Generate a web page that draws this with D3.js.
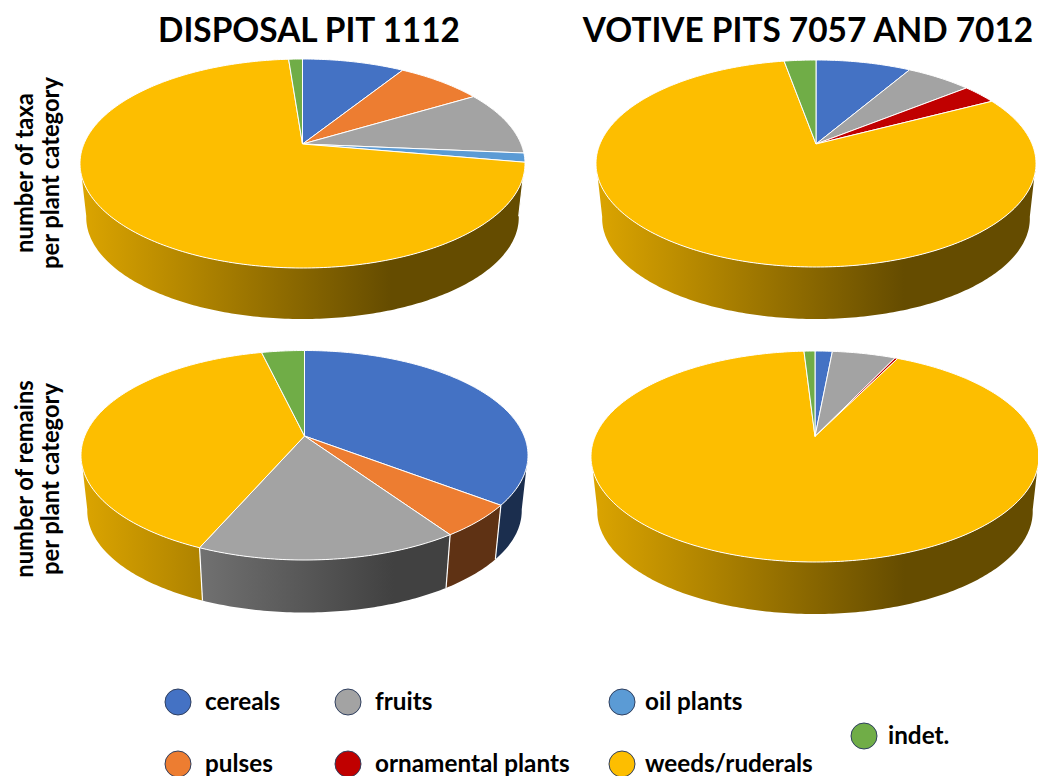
<!DOCTYPE html>
<html>
<head>
<meta charset="utf-8">
<script src="https://cdnjs.cloudflare.com/ajax/libs/d3/7.8.5/d3.min.js"></script>
<style>
  body { margin: 0; background: #fff; }
  text { font-family: Lato, "Open Sans", sans-serif; font-weight: 700; fill: #000; }
</style>
</head>
<body>
<script>
// order of every series: same as categories
var categories = ["cereals", "pulses", "fruits", "oil plants", "ornamental plants", "weeds/ruderals", "indet."];
var colors = ["#4472c4", "#ed7d31", "#a3a3a3", "#5b9bd5", "#c00000", "#fdbe00", "#70ad47"];

// shares in percent
var taxaDisposal    = [8.9, 7.5, 10.0, 1.4, 0, 71.0, 1.2];
var taxaVotive      = [8.4, 0, 5.8, 0, 3.1, 79.9, 2.8];
var remainsDisposal = [35.4, 5.1, 16.0, 0, 0, 39.8, 3.7];
var remainsVotive   = [1.5, 0, 5.5, 0, 0.25, 91.8, 0.95];

var titles = ["DISPOSAL PIT 1112", "VOTIVE PITS 7057 AND 7012"];
var rowLabels = [["number of taxa", "per plant category"], ["number of remains", "per plant category"]];

var width = 1038, height = 776;
var svg = d3.select("body").append("svg").attr("width", width).attr("height", height);
var defs = svg.append("defs");

var pie = d3.pie().sort(null);
var line = d3.line();

// perspective disc: apex is the pie centre, top/bottom are the ellipse extremes
function makeProjection(p, scale, shift) {
  var up = p.apexY - p.top, down = p.bottom - p.apexY;
  var k = (up - down) / (up + down);
  var b = up * (1 - k);
  var a = p.rx * Math.sqrt(1 - k * k);
  return function(phi) {
    var X = Math.sin(phi), Y = -Math.cos(phi), w = 1 + k * Y;
    return [p.cx + scale * a * X / w, p.apexY + shift + scale * b * Y / w];
  };
}

function arcPoints(project, a0, a1) {
  var n = Math.max(2, Math.ceil((a1 - a0) / 0.015)), pts = [];
  for (var i = 0; i <= n; i++) pts.push(project(a0 + (a1 - a0) * i / n));
  return pts;
}

var rad = Math.PI / 180;
var wallFrom = 100 * rad, wallTo = 260 * rad;
var bottomScale = 0.972;
var shadeStops = [[0, 0.87], [0.7, 0.4], [1, 0.4]];

function shade(c, f) {
  var r = d3.rgb(c);
  return d3.rgb(r.r * f, r.g * f, r.b * f).formatHex();
}

function drawPie(values, p, id) {
  var top = makeProjection(p, 1, 0);
  var shift = p.wallBottom - p.bottom * 1 + (1 - bottomScale) * (p.bottom - p.apexY);
  var low = makeProjection(p, bottomScale, shift);
  var g = svg.append("g");
  var slices = pie(values).filter(function(d) { return d.value > 0; });

  // one gradient per colour, shared x range of the whole pie
  slices.forEach(function(d) {
    var grad = defs.append("linearGradient")
      .attr("id", id + "-" + d.index)
      .attr("gradientUnits", "userSpaceOnUse")
      .attr("x1", p.cx - p.rx).attr("x2", p.cx + p.rx)
      .attr("y1", 0).attr("y2", 0);
    shadeStops.forEach(function(s) {
      grad.append("stop").attr("offset", s[0]).attr("stop-color", shade(colors[d.index], s[1]));
    });
  });

  // walls
  slices.forEach(function(d) {
    var a0 = Math.max(d.startAngle, wallFrom), a1 = Math.min(d.endAngle, wallTo);
    if (a1 <= a0) return;
    var pts = arcPoints(top, a0, a1).concat(arcPoints(low, a0, a1).reverse());
    g.append("path")
      .attr("d", line(pts) + "Z")
      .attr("fill", "url(#" + id + "-" + d.index + ")");
  });

  // white edges between walls
  slices.forEach(function(d) {
    if (d.endAngle <= wallFrom || d.endAngle >= wallTo) return;
    g.append("path")
      .attr("d", line([top(d.endAngle), low(d.endAngle)]))
      .attr("stroke", "#fff").attr("stroke-width", 1.2).attr("fill", "none");
  });

  // top face
  slices.forEach(function(d) {
    var pts = [[p.cx, p.apexY]].concat(arcPoints(top, d.startAngle, d.endAngle));
    g.append("path")
      .attr("d", line(pts) + "Z")
      .attr("fill", colors[d.index])
      .attr("stroke", "#fff").attr("stroke-width", 1).attr("stroke-linejoin", "round");
  });
}

drawPie(taxaDisposal,    {cx: 302.5, rx: 222.5, apexY: 144, top: 59,  bottom: 268, wallBottom: 319}, "a");
drawPie(taxaVotive,      {cx: 816,   rx: 220,   apexY: 144, top: 60,  bottom: 267, wallBottom: 319}, "b");
drawPie(remainsDisposal, {cx: 304.5, rx: 223.5, apexY: 436, top: 350.5, bottom: 560, wallBottom: 612.5}, "c");
drawPie(remainsVotive,   {cx: 815,   rx: 224,   apexY: 436.5, top: 351, bottom: 562, wallBottom: 614}, "d");

// titles
svg.selectAll(".title").data(titles).enter().append("text")
  .attr("class", "title")
  .attr("x", function(d, i) { return [309, 808][i]; })
  .attr("y", 42)
  .attr("text-anchor", "middle")
  .style("font-size", "33.4px")
  .text(function(d) { return d; });

// row labels
var rowCenters = [173, 479];
rowLabels.forEach(function(lines, r) {
  lines.forEach(function(t, i) {
    svg.append("text")
      .attr("transform", "translate(" + [33, 59][i] + "," + rowCenters[r] + ") rotate(-90)")
      .attr("text-anchor", "middle")
      .style("font-size", "23.8px")
      .text(t);
  });
});

// legend
var legendX = [178, 178, 348, 622, 348, 622, 864];
var legendY = [702, 764, 702, 702, 764, 764, 736];
var legendTextX = [205, 205, 375, 645, 375, 645, 888];
var legend = svg.selectAll(".legend").data(categories).enter().append("g").attr("class", "legend");
legend.append("circle")
  .attr("cx", function(d, i) { return legendX[i]; })
  .attr("cy", function(d, i) { return legendY[i]; })
  .attr("r", 13)
  .attr("fill", function(d, i) { return colors[i]; })
  .attr("stroke", "#2f3f5f").attr("stroke-width", 1);
legend.append("text")
  .attr("x", function(d, i) { return legendTextX[i]; })
  .attr("y", function(d, i) { return legendY[i] + 8; })
  .style("font-size", "24.3px")
  .text(function(d) { return d; });
</script>
</body>
</html>
